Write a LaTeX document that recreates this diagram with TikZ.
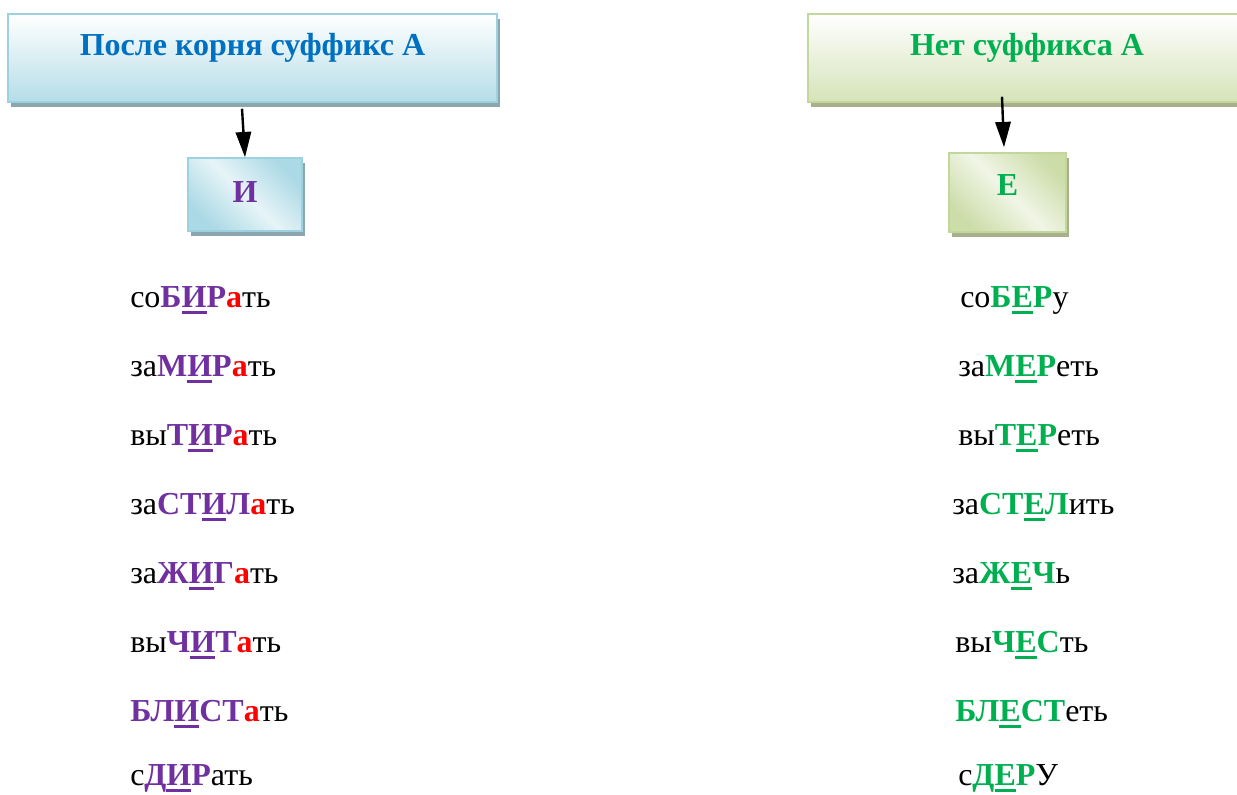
\documentclass[tikz,border=0pt]{standalone}
\usepackage{fontspec}
\setmainfont{Liberation Serif}
\usetikzlibrary{arrows.meta,shadows}

\definecolor{violettI}{HTML}{7030A0}
\definecolor{gruenE}{HTML}{00B050}
\definecolor{rotA}{HTML}{FF0000}
\definecolor{blauT}{HTML}{0070C0}
\definecolor{randL}{HTML}{9CD2E0}
\definecolor{randR}{HTML}{C4D79B}
\definecolor{schattenL}{HTML}{8CA6AD}
\definecolor{schattenR}{HTML}{A7AF8C}

% 語根の文字（太字・色）
\newcommand{\kor}[2]{{\bfseries\color{#1}#2}}
% 下線つきの母音
\newcommand{\glas}[2]{\setbox0\hbox{\bfseries #2}\rlap{\color{#1}\rule[-5pt]{\wd0}{2.2pt}}{\bfseries\color{#1}#2}}
% 接尾辞 а
\newcommand{\sufa}{{\bfseries\color{rotA}а}}

\begin{document}
\begin{tikzpicture}[x=0.75pt, y=-0.75pt,
  every node/.style={font=\fontsize{24}{28}\selectfont, inner xsep=0pt},
  blaukasten/.style={draw=randL, line width=1.1pt, top color=white, bottom color=randL!75,
    drop shadow={shadow xshift=2.25pt, shadow yshift=-4pt, fill=schattenL, opacity=1}},
  gruenkasten/.style={draw=randR, line width=1.1pt, top color=white, bottom color=randR!70,
    drop shadow={shadow xshift=2.25pt, shadow yshift=-4pt, fill=schattenR, opacity=1}},
  blauklein/.style={draw=randL, line width=1.1pt, left color=randL!85, right color=randL!85,
    middle color=randL!25, shading angle=-45,
    drop shadow={shadow xshift=2.25pt, shadow yshift=-4pt, fill=schattenL, opacity=1}},
  gruenklein/.style={draw=randR, line width=1.1pt, left color=randR!85, right color=randR!85,
    middle color=randR!25, shading angle=-45,
    drop shadow={shadow xshift=2.25pt, shadow yshift=-4pt, fill=schattenR, opacity=1}},
  pfeil/.style={line width=1.8pt, -{Triangle[length=19pt, width=11.5pt]}}]

  \useasboundingbox (0,0) rectangle (1237,794);

  % 見出し（左）
  \node [blaukasten, minimum width=366.75pt, inner ysep=0pt, text height=30.75pt, text depth=35.25pt]
    (titelL) at (252.5,58) {\bfseries\color{blauT}После корня суффикс А};
  % 見出し（右）
  \node [gruenkasten, minimum width=328.5pt, inner ysep=0pt, text height=30.75pt, text depth=35.25pt]
    (titelR) at (1027,58) {\bfseries\color{gruenE}Нет суффикса А};

  % И / Е
  \node [blauklein, minimum width=85.5pt, inner ysep=0pt, text height=33pt, text depth=21.75pt]
    (kastenI) at (245,194.5) {\bfseries\color{violettI}И};
  \node [gruenklein, minimum width=87.75pt, inner ysep=0pt, text height=31.5pt, text depth=27.75pt]
    (kastenE) at (1007.5,192.5) {\bfseries\color{gruenE}Е};

  % 矢印
  \draw [pfeil] ([shift={(-10.5,6)}]titelL.south) -- (kastenI.north);
  \draw [pfeil] ([shift={(-25,-6)}]titelR.south) -- ([shift={(-3.5,-5)}]kastenE.north);

  % 左の列
  \node [anchor=base west] (wL1) at (130,307) {со\kor{violettI}{Б}\glas{violettI}{И}\kor{violettI}{Р}\sufa ть};
  \node [anchor=base west] (wL2) at (130,376) {за\kor{violettI}{М}\glas{violettI}{И}\kor{violettI}{Р}\sufa ть};
  \node [anchor=base west] (wL3) at (130,445) {вы\kor{violettI}{Т}\glas{violettI}{И}\kor{violettI}{Р}\sufa ть};
  \node [anchor=base west] (wL4) at (130,514) {за\kor{violettI}{СТ}\glas{violettI}{И}\kor{violettI}{Л}\sufa ть};
  \node [anchor=base west] (wL5) at (130,583) {за\kor{violettI}{Ж}\glas{violettI}{И}\kor{violettI}{Г}\sufa ть};
  \node [anchor=base west] (wL6) at (130,652) {вы\kor{violettI}{Ч}\glas{violettI}{И}\kor{violettI}{Т}\sufa ть};
  \node [anchor=base west] (wL7) at (130,721) {\kor{violettI}{БЛ}\glas{violettI}{И}\kor{violettI}{СТ}\sufa ть};
  \node [anchor=base west] (wL8) at (130,785) {с\kor{violettI}{Д}\glas{violettI}{И}\kor{violettI}{Р}ать};

  % 右の列
  \node [anchor=base west] (wR1) at (960,307) {со\kor{gruenE}{Б}\glas{gruenE}{Е}\kor{gruenE}{Р}у};
  \node [anchor=base west] (wR2) at (958,376) {за\kor{gruenE}{М}\glas{gruenE}{Е}\kor{gruenE}{Р}еть};
  \node [anchor=base west] (wR3) at (958,445) {вы\kor{gruenE}{Т}\glas{gruenE}{Е}\kor{gruenE}{Р}еть};
  \node [anchor=base west] (wR4) at (952,514) {за\kor{gruenE}{СТ}\glas{gruenE}{Е}\kor{gruenE}{Л}ить};
  \node [anchor=base west] (wR5) at (952,583) {за\kor{gruenE}{Ж}\glas{gruenE}{Е}\kor{gruenE}{Ч}ь};
  \node [anchor=base west] (wR6) at (955,652) {вы\kor{gruenE}{Ч}\glas{gruenE}{Е}\kor{gruenE}{С}ть};
  \node [anchor=base west] (wR7) at (955,721) {\kor{gruenE}{БЛ}\glas{gruenE}{Е}\kor{gruenE}{СТ}еть};
  \node [anchor=base west] (wR8) at (958,785) {с\kor{gruenE}{Д}\glas{gruenE}{Е}\kor{gruenE}{Р}У};

\end{tikzpicture}
\end{document}
